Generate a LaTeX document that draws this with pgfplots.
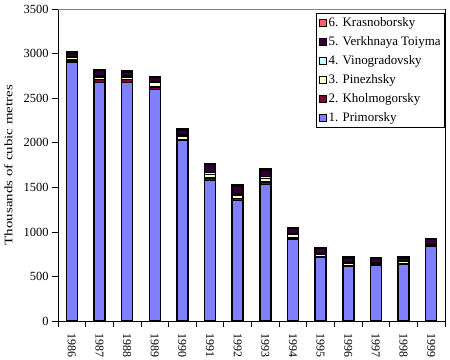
\documentclass[border=0pt]{standalone}
\usepackage{pgfplots}
\pgfplotsset{compat=1.18}
\usepackage{pgfplotstable}
\usepackage{fontspec}
\setmainfont{Liberation Serif}
\definecolor{cPrim}{RGB}{128,128,255}
\definecolor{cKhol}{RGB}{128,0,48}
\definecolor{cPin}{RGB}{255,255,204}
\definecolor{cVin}{RGB}{204,255,255}
\definecolor{cVerk}{RGB}{48,0,48}
\definecolor{cKras}{RGB}{255,96,96}
\pgfplotstableread{
x Prim Khol Pin Vin Verk Kras
0 2910 20 30 10 40 10
1 2680 30 30 10 60 10
2 2680 30 30 10 45 10
3 2600 30 50 10 45 10
4 2030 10 40 10 55 10
5 1575 30 40 20 90 10
6 1355 20 40 10 90 10
7 1530 30 40 20 75 10
8 920 10 40 10 60 10
9 715 10 30 5 55 10
10 610 10 30 5 55 10
11 630 5 10 5 50 10
12 640 5 25 5 32 10
13 840 5 10 5 53 10
}\data
\begin{document}
\begin{tikzpicture}
\useasboundingbox (0,0) rectangle (450bp,360bp);
\begin{axis}[
  at={(58bp,39bp)}, anchor=south west,
  scale only axis, width=387bp, height=311.7bp,
  ybar stacked, bar width=11bp,
  xmin=-0.5, xmax=13.5, ymin=0, ymax=3500,
  ytick={0,500,...,3500},
  xtick={-0.5,0.5,...,13.5},
  x tick label as interval,
  xticklabels={1986,1987,1988,1989,1990,1991,1992,1993,1994,1995,1996,1997,1998,1999},
  xticklabel shift=6bp,
  x tick label style={rotate=-90, anchor=west, inner xsep=0bp, font=\fontsize{12}{14}\selectfont},
  y tick label style={font=\fontsize{12.5}{14}\selectfont},
  /pgf/number format/assume math mode=true,
  /pgf/number format/1000 sep={},
  tick align=outside, major tick length=6bp,
  xtick pos=bottom, ytick pos=left,
  tick style={black, line width=0.8bp},
  axis line style={black, line width=0.8bp},
  ylabel={\scalebox{1.3}[1]{Thousands of cubic metres}},
  ylabel style={font=\fontsize{11.5}{13}\selectfont, at={(axis description cs:-0.1085,0.5)}, anchor=south},
  legend style={at={(axis description cs:1,0.987)}, anchor=north east, draw=black, line width=0.8bp,
    font=\fontsize{13}{15}\selectfont, row sep=4.5bp, inner xsep=2bp, inner ysep=2bp, cells={anchor=west}},
  reverse legend,
  legend image code/.code={\draw[#1, draw=black, line width=0.8bp] (0bp,-3.5bp) rectangle (7bp,3.5bp);},
  every axis plot/.append style={draw=black, line width=1.5bp},
]
\addplot[fill=cPrim] table[x=x,y=Prim]{\data};
\addplot[fill=cKhol] table[x=x,y=Khol]{\data};
\addplot[fill=cPin] table[x=x,y=Pin]{\data};
\addplot[fill=cVin] table[x=x,y=Vin]{\data};
\addplot[fill=cVerk] table[x=x,y=Verk]{\data};
\addplot[fill=cKras] table[x=x,y=Kras]{\data};
\legend{1. Primorsky, 2. Kholmogorsky, 3. Pinezhsky, 4. Vinogradovsky, 5. Verkhnaya Toiyma, 6. Krasnoborsky}
\draw[gray, line width=0.9bp] (rel axis cs:0,1) -- (rel axis cs:1,1);
\end{axis}
\end{tikzpicture}
\end{document}
